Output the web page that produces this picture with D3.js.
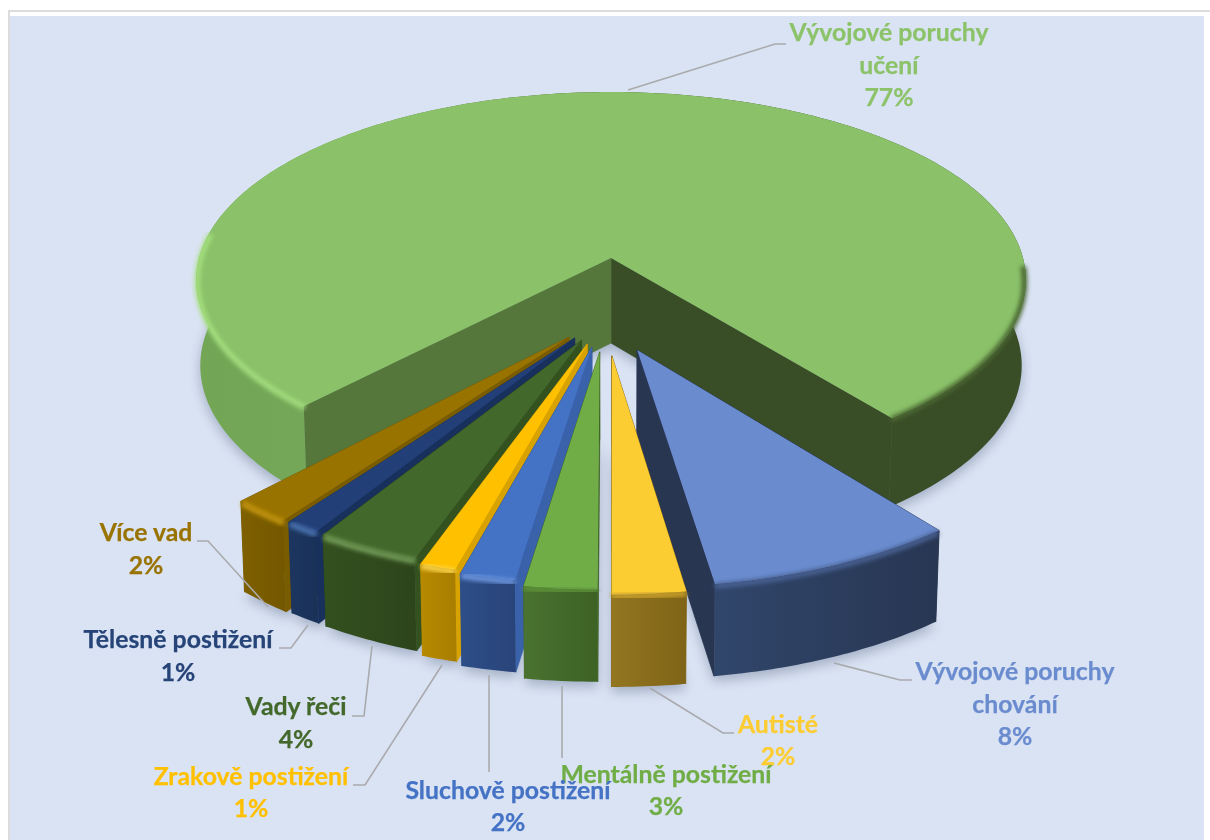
<!DOCTYPE html>
<html><head><meta charset="utf-8">
<script src="https://cdn.jsdelivr.net/npm/d3@7/dist/d3.min.js"></script>
<style>html,body{margin:0;padding:0;background:#fff;overflow:hidden}svg{display:block}text{font-family:Lato,"Open Sans",sans-serif;font-weight:700}</style>
</head><body><svg id="c" width="1210" height="840"></svg>
<script>
// ---- data -------------------------------------------------------------
const categories = ["Vývojové poruchy učení","Vývojové poruchy chování","Autisté","Mentálně postižení","Sluchově postižení","Zrakově postižení","Vady řeči","Tělesně postižení","Více vad"];
const shares = [77.42,8.25,2.40,2.38,1.81,1.19,3.44,1.14,1.97];
// percentages as printed on the labels
const printedPercent = [77,8,2,3,2,1,4,1,2];
const labelLines = [["Vývojové poruchy","učení"],["Vývojové poruchy","chování"],["Autisté"],["Mentálně postižení"],["Sluchově postižení"],["Zrakově postižení"],["Vady řeči"],["Tělesně postižení"],["Více vad"]];
// ---- styles -----------------------------------------------------------
const topColor  = ["#8ac169","#6a8ccf","#fccc33","#70ad47","#4472c4","#ffc000","#43682b","#223f78","#997300"];
const labelColor= ["#8cc36a","#6a8ccf","#fccc33","#70ad47","#4472c4","#ffc000","#43682b","#264478","#997300"];
const wallFrom  = ["#74a858","#30466b","#937620","#4a7230","#2d4e88","#b88a00","#33501f","#1c3660","#7f6000"];
const wallTo    = ["#394d27","#283652","#7f6418","#3d6224","#29447a","#a87e00","#2e451b","#1a3158","#745800"];
const startFace = ["#394d27","#283652","#85691a","#3f6425","#3a62ab","#d8a300","#33521f","#18305c","#7a5c00"];
const endFace   = ["#55773c","#283652","#85691a","#3f6425","#2d4e88","#b88a00","#2e451b","#1a3158","#745800"];
const rimColor  = ["#a6e07f","#4a6294","#c9a02a","#5d9339","#6f9ae4","#ffd84d","#76a05a","#4c76b4","#c8980f"];
// ---- geometry ---------------------------------------------------------
const W=1210,H=840, cx=611, cy=258, A=412, B=185.4, persp=0.117;
const firstAngle = 223*Math.PI/180;
const explodeRight=[0,0.06,0.002,-0.026,-0.044,-0.055,-0.068,-0.084,-0.097];
const explodeDown =[0,0.469,0.497,0.478,0.455,0.44,0.422,0.411,0.406];
const drawOrder=[0,1,2,8,7,6,5,4,3];
const labelLayout=[
 {x:889,y:[41,74,106],lead:[[628,90],[775,44],[786,44]]},
 {x:1015,y:[680,713,745],lead:[[834,663],[900,680],[912,680]]},
 {x:778,y:[733,765],lead:[[650,688],[723,733],[734,733]]},
 {x:666,y:[783,815],lead:[[562,686],[562,758]]},
 {x:508,y:[799,831],lead:[[489,675],[489,772]]},
 {x:251,y:[785,817],lead:[[442,665],[365,785],[353,785]]},
 {x:296,y:[715,748],lead:[[372,646],[364,716],[352,716]]},
 {x:178,y:[648,681],lead:[[308,625],[291,648],[279,648]]},
 {x:146,y:[541,574],lead:[[268,607],[208,541],[197,541]]}
];
const project=(X,Y,z)=>{const w=1-persp*Y,c=1-0.01*z;return [cx+A*X/w*c, cy+B*Y/w+z*(85+5*Y)];};
const pie=d3.pie().sort(null).startAngle(firstAngle).endAngle(firstAngle+2*Math.PI);
const arcs=pie(shares);
const pt=(i,th,r,z)=>project(explodeRight[i]+r*Math.sin(th),explodeDown[i]-r*Math.cos(th),z);
const arcAngles=(a,b)=>{const n=Math.max(4,Math.ceil((b-a)/0.015));return d3.range(n+1).map(k=>a+(b-a)*k/n);};
const line=d3.line(), closed=d3.line().curve(d3.curveLinearClosed);

const svg=d3.select("#c"), defs=svg.append("defs");
const blur=(id,s)=>defs.append("filter").attr("id",id).attr("x","-20%").attr("y","-20%").attr("width","140%").attr("height","140%")
  .append("feGaussianBlur").attr("stdDeviation",s);
blur("bShadow",6); blur("bRim",2.2);
function grad(id,x1,x2,stops){const g=defs.append("linearGradient").attr("id",id).attr("gradientUnits","userSpaceOnUse").attr("x1",x1).attr("x2",x2).attr("y1",0).attr("y2",0);
  stops.forEach(s=>g.append("stop").attr("offset",s[0]).attr("stop-color",s[1]));return `url(#${id})`;}

// page frame
svg.append("rect").attr("x",8).attr("y",10).attr("width",W-8).attr("height",2).attr("fill","#dcdcdc");
svg.append("rect").attr("x",8).attr("y",10).attr("width",2).attr("height",H-10).attr("fill","#dcdcdc");
svg.append("rect").attr("x",10).attr("y",16).attr("width",1194).attr("height",H-16).attr("fill","#dae3f3");

// soft shadow under every slice
const shadow=svg.append("g").attr("filter","url(#bShadow)").attr("fill","#76839f").attr("opacity",0.55);
arcs.forEach((d,i)=>{
  const pts=[pt(i,d.startAngle,0,1),...arcAngles(d.startAngle,d.endAngle).map(t=>pt(i,t,1,1))];
  shadow.append("path").attr("transform","translate(0,5)").attr("d",closed(pts));
});

// slices
const chart=svg.append("g");
drawOrder.forEach(i=>{
  const d=arcs[i], a0=d.startAngle, a1=d.endAngle, angs=arcAngles(a0,a1), g=chart.append("g");
  const xs=angs.map(t=>pt(i,t,1,0)[0]);
  const wf = i===0
    ? grad("w0",195,1025,[[0,"#72a655"],[0.13,wallFrom[0]],[0.5,wallTo[0]],[1,wallTo[0]]])
    : grad("w"+i,d3.min(xs),d3.max(xs),[[0,wallFrom[i]],[1,wallTo[i]]]);
  const face=(ang,col)=>g.append("path").attr("fill",col).attr("stroke",col).attr("stroke-width",0.8).attr("d",closed([pt(i,ang,0,0),pt(i,ang,1,0),pt(i,ang,1,1),pt(i,ang,0,1)]));
  if(i===0){ face(a1,startFace[0]); face(a0,endFace[0]); }   // the left face of the large slice stays in front
  else { face(a1,endFace[i]); face(a0,startFace[i]); }
  // outer wall
  g.append("path").attr("fill",wf).attr("d",closed([...angs.map(t=>pt(i,t,1,0)),...angs.slice().reverse().map(t=>pt(i,t,1,1))]));
  // top
  g.append("path").attr("fill",topColor[i]).attr("d",closed([pt(i,a0,0,0),...angs.map(t=>pt(i,t,1,0))]));
  // bevel along the rim
  const rim=g.append("g").attr("filter","url(#bRim)").attr("fill","none").attr("stroke-width",5.5);
  if(i===0){
    const rg=grad("r0",195,1025,[[0,"#a4df7e"],[0.14,"#a3dd7e"],[0.45,"#7aa95c"],[0.8,"#4d6a34"],[1,"#4a6632"]]);
    const toRad=v=>v*Math.PI/180;
    rim.append("path").attr("stroke",rg).attr("d",line(arcAngles(a0,toRad(278)).map(t=>pt(0,t,0.997,0.02))));
    rim.append("path").attr("stroke",rg).attr("d",line(arcAngles(toRad(360+92),a1).map(t=>pt(0,t,0.997,0.02))));
  } else {
    rim.append("path").attr("stroke",rimColor[i]).attr("d",line(angs.map(t=>pt(i,t,0.997,0.03))));
  }
});

// leader lines
svg.append("g").attr("fill","none").attr("stroke","#a9aaad").attr("stroke-width",1.6)
  .selectAll("path").data(labelLayout).join("path").attr("d",l=>line(l.lead));

// labels (the reference itself lets the Autisté, Mentálně and Sluchově labels touch)
const labels=svg.append("g").attr("text-anchor","middle").attr("font-size",24.8);
categories.forEach((c,i)=>{
  const lines=[...labelLines[i],printedPercent[i]+"%"];
  lines.forEach((t,k)=>labels.append("text").attr("x",labelLayout[i].x).attr("y",labelLayout[i].y[k]).attr("fill",labelColor[i]).attr("stroke",labelColor[i]).attr("stroke-width",0.25).text(t));
});
</script></body></html>
